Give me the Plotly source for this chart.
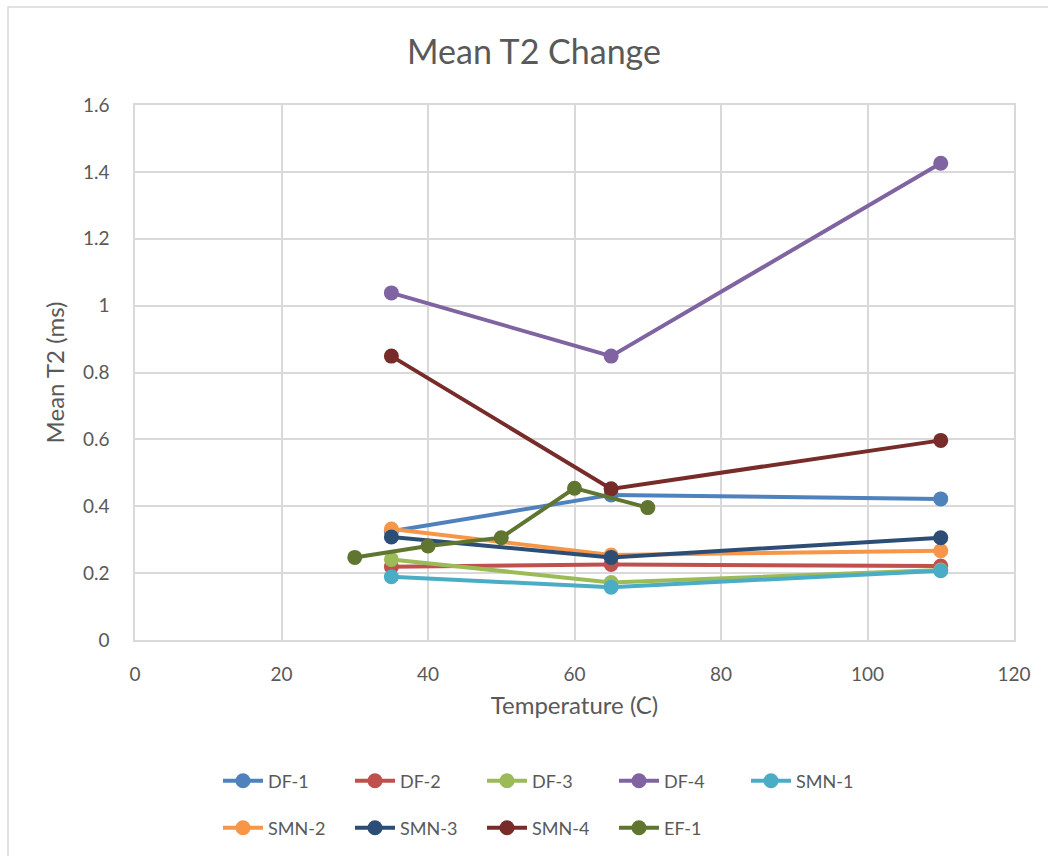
import plotly.graph_objects as go

# Mean T2 (ms) measured at each temperature (C)
temps_std = [35, 65, 110]
temps_ef = [30, 40, 50, 60, 70]

df1 = [0.325, 0.434, 0.422]
df2 = [0.219, 0.226, 0.221]
df3 = [0.241, 0.172, 0.209]
df4 = [1.038, 0.849, 1.426]
smn1 = [0.189, 0.158, 0.207]
smn2 = [0.332, 0.254, 0.267]
smn3 = [0.308, 0.247, 0.306]
smn4 = [0.849, 0.452, 0.597]
ef1 = [0.247, 0.281, 0.306, 0.454, 0.396]

series = [
    ("DF-1", temps_std, df1, "#4F81BD", "legend"),
    ("DF-2", temps_std, df2, "#C0504D", "legend"),
    ("DF-3", temps_std, df3, "#9BBB59", "legend"),
    ("DF-4", temps_std, df4, "#8064A2", "legend"),
    ("SMN-1", temps_std, smn1, "#4BACC6", "legend"),
    ("SMN-2", temps_std, smn2, "#F79646", "legend2"),
    ("SMN-3", temps_std, smn3, "#2C4D75", "legend2"),
    ("SMN-4", temps_std, smn4, "#772C2A", "legend2"),
    ("EF-1", temps_ef, ef1, "#5F7530", "legend2"),
]

FONT = "Lato, Carlito, Calibri, sans-serif"
GREY = "#595959"
GRID = "#D9D9D9"

fig = go.Figure()
for name, xs, ys, color, leg in series:
    fig.add_trace(go.Scatter(
        x=xs, y=ys, name=name, mode="lines+markers",
        line=dict(color=color, width=4),
        marker=dict(color=color, size=15, symbol="circle"),
        legend=leg,
    ))

legend_common = dict(
    orientation="h", xanchor="left", yanchor="middle",
    xref="container", yref="container",
    font=dict(family=FONT, size=18, color=GREY),
    entrywidth=77, entrywidthmode="pixels",
    itemwidth=40, bgcolor="rgba(0,0,0,0)",
    tracegroupgap=0,
)

fig.update_layout(
    width=1048, height=856,
    margin=dict(l=135, r=34, t=105, b=216, autoexpand=False),
    paper_bgcolor="white", plot_bgcolor="white",
    font=dict(family=FONT, color=GREY),
    title=dict(text="Mean T2 Change", x=534 / 1048, xref="container", xanchor="center",
               y=1 - 52 / 856, yanchor="middle",
               font=dict(family=FONT, size=34, color=GREY)),
    xaxis=dict(
        range=[0, 120], dtick=20, tick0=0,
        showgrid=True, gridcolor=GRID, gridwidth=1.5,
        zeroline=False, showline=True, linecolor=GRID, linewidth=1.5, mirror=True,
        ticks="", tickfont=dict(family=FONT, size=19, color=GREY),
        ticklabelstandoff=16,
        title=dict(text="Temperature (C)", font=dict(family=FONT, size=24, color=GREY),
                   standoff=14),
    ),
    yaxis=dict(
        range=[0, 1.6], dtick=0.2, tick0=0, tickformat="~g",
        showgrid=True, gridcolor=GRID, gridwidth=1.5,
        zeroline=False, showline=True, linecolor=GRID, linewidth=1.5, mirror=True,
        ticks="", tickfont=dict(family=FONT, size=19, color=GREY),
        ticklabelstandoff=20,
        title=dict(text="Mean T2 (ms)", font=dict(family=FONT, size=24, color=GREY),
                   standoff=12),
    ),
    legend=dict(x=218 / 1048, y=1 - 781 / 856, **legend_common),
    legend2=dict(x=218 / 1048, y=1 - 828 / 856, **legend_common),
    showlegend=True,
    shapes=[dict(
        type="rect", xref="paper", yref="paper",
        x0=(8 - 135) / 879, x1=1.2, y0=-0.6, y1=(640 - 7) / 535,
        line=dict(color=GRID, width=1.5), fillcolor="rgba(0,0,0,0)", layer="below",
    )],
)

fig.write_html("out.html")
